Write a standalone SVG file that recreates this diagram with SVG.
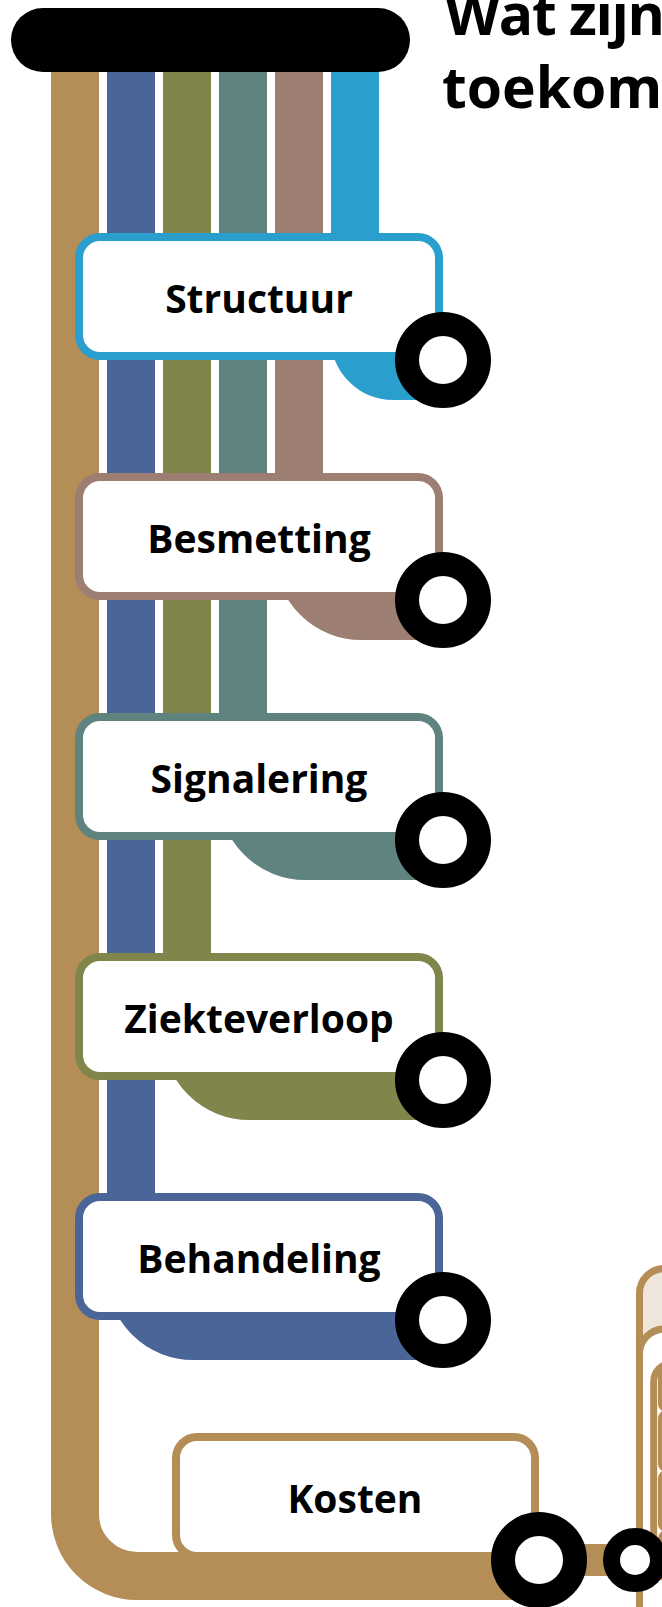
<svg xmlns="http://www.w3.org/2000/svg" width="662" height="1607" viewBox="0 0 662 1607">
<style>
.line{fill:none;stroke-width:48;stroke-linecap:butt}
.box{fill:#fff;stroke-width:8}
.lbl{font-family:"Open Sans","Liberation Sans",sans-serif;font-weight:700;font-size:39px;text-anchor:middle;fill:#000}
.title{font-family:"Open Sans","Liberation Sans",sans-serif;font-weight:700;font-size:57px;fill:#000}
.stop{fill:#fff;stroke:#000;stroke-width:24}
.c-brown{stroke:#B58D57}.c-blue{stroke:#4A6597}.c-olive{stroke:#80854C}.c-teal{stroke:#5F847F}.c-mauve{stroke:#9C7E72}.c-lblue{stroke:#2A9ECD}
.panel{stroke:#B58D57;stroke-width:7}
</style>
<rect width="662" height="1607" fill="#fff"/>
<g id="connectors">
<path class="line c-brown" d="M75,40 V1514 A62,62 0 0 0 137,1576 H539"/>
<path class="line c-blue" d="M131,40 V1274 A62,62 0 0 0 193,1336 H443"/>
<path class="line c-olive" d="M187,40 V1034 A62,62 0 0 0 249,1096 H443"/>
<path class="line c-teal" d="M243,40 V794 A62,62 0 0 0 305,856 H443"/>
<path class="line c-mauve" d="M299,40 V554 A62,62 0 0 0 361,616 H443"/>
<path class="line c-lblue" d="M355,40 V338 A38,38 0 0 0 393,376 H443"/>
<path fill="none" stroke="#B58D57" stroke-width="32" d="M539,1560 H635"/>
</g>
<g id="root">
<rect x="11" y="8" width="399" height="64" rx="32" fill="#000"/>
</g>
<g id="title">
<text class="title" x="445" y="35" letter-spacing="-1.3">Wat zijn</text>
<text class="title" x="442" y="108">toekom</text>
</g>
<g id="node-structuur">
<rect class="box c-lblue" x="79" y="237" width="360" height="119" rx="21"/>
<text class="lbl" x="259" y="313">Structuur</text>
<circle class="stop" cx="443" cy="360" r="36"/>
</g>
<g id="node-besmetting">
<rect class="box c-mauve" x="79" y="477" width="360" height="119" rx="21"/>
<text class="lbl" x="259" y="553">Besmetting</text>
<circle class="stop" cx="443" cy="600" r="36"/>
</g>
<g id="node-signalering">
<rect class="box c-teal" x="79" y="717" width="360" height="119" rx="21"/>
<text class="lbl" x="259" y="793">Signalering</text>
<circle class="stop" cx="443" cy="840" r="36"/>
</g>
<g id="node-ziekteverloop">
<rect class="box c-olive" x="79" y="957" width="360" height="119" rx="21"/>
<text class="lbl" x="259" y="1033">Ziekteverloop</text>
<circle class="stop" cx="443" cy="1080" r="36"/>
</g>
<g id="node-behandeling">
<rect class="box c-blue" x="79" y="1197" width="360" height="119" rx="21"/>
<text class="lbl" x="259" y="1273">Behandeling</text>
<circle class="stop" cx="443" cy="1320" r="36"/>
</g>
<g id="node-kosten">
<rect class="box c-brown" x="176" y="1437" width="359" height="119" rx="21"/>
<path class="line c-brown" d="M137,1576 H539"/>
<text class="lbl" x="355" y="1513">Kosten</text>
<circle class="stop" cx="539" cy="1560" r="36"/>
</g>
<g id="node-panel">
<rect class="panel" x="639.5" y="1268.5" width="120" height="400" rx="25" fill="#EEE6DB"/>
<rect class="panel" x="639.5" y="1329" width="120" height="400" rx="25" fill="#fff"/>
<rect class="panel" x="653.7" y="1363.5" width="60" height="216" rx="18" fill="#fff" stroke-width="6"/>
<rect class="panel" x="661.5" y="1366" width="40" height="42" rx="4" fill="#fff" stroke-width="3"/>
<rect class="panel" x="661.5" y="1414" width="40" height="54" rx="4" fill="#fff" stroke-width="3"/>
<rect class="panel" x="661.5" y="1474" width="40" height="54" rx="4" fill="#fff" stroke-width="3"/>
<rect class="panel" x="661.5" y="1534" width="40" height="40" rx="4" fill="#fff" stroke-width="3"/>
</g>
<g id="node-end">
<circle cx="635" cy="1560" r="23.5" fill="#fff" stroke="#000" stroke-width="17"/>
</g>
</svg>
